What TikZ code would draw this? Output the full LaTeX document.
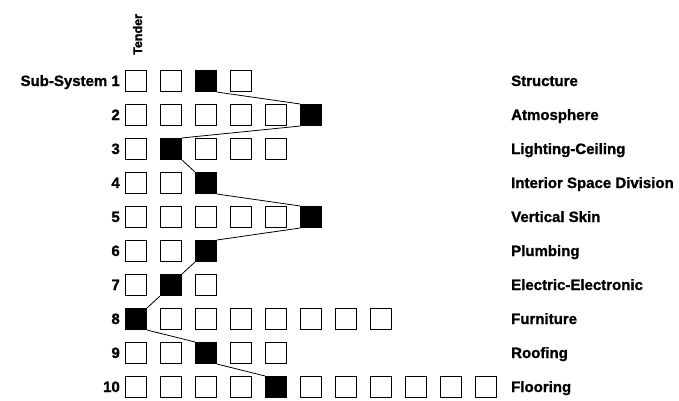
\documentclass[tikz,border=0pt]{standalone}
\usepackage{fontspec}
\setmainfont{Liberation Sans}[BoldFeatures={FakeBold=1.2}]
\usetikzlibrary{positioning}

\begin{document}
\begin{tikzpicture}[
  x=1pt, y=-1pt,
  casilla/.style={rectangle, draw, line width=1.1pt, minimum size=21pt, inner sep=0pt},
  llena/.style={casilla, fill=black},
  rotulo/.style={font=\bfseries\fontsize{15}{18}\selectfont, inner sep=0pt},
  enlace/.style={line width=0.8pt}
]
\useasboundingbox (0,0) rectangle (679,400);
\foreach \r/\n/\izq/\der in {1/4/Sub-System 1/Structure, 2/6/2/Atmosphere, 3/5/3/Lighting-Ceiling,
    4/3/4/Interior Space Division, 5/6/5/Vertical Skin, 6/3/6/Plumbing, 7/3/7/Electric-Electronic,
    8/8/8/Furniture, 9/5/9/Roofing, 10/11/10/Flooring} {
  \foreach \c in {1,...,\n}
    \node[casilla] (b\r-\c) at ({136+35*(\c-1)}, {81+34*(\r-1)}) {};
  \node[rotulo, anchor=base east] (n\r) at (120, {86+34*(\r-1)}) {\izq};
  \node[rotulo, anchor=base west] (t\r) at (511, {86+34*(\r-1)}) {\der};
}
\node[rotulo, font=\bfseries\fontsize{12.5}{15}\selectfont, rotate=90, anchor=base west] (tender) at (142,55) {Tender};
% casillas elegidas
\node[llena] (s1) at (b1-3) {};
\node[llena] (s2) at (b2-6) {};
\node[llena] (s3) at (b3-2) {};
\node[llena] (s4) at (b4-3) {};
\node[llena] (s5) at (b5-6) {};
\node[llena] (s6) at (b6-3) {};
\node[llena] (s7) at (b7-2) {};
\node[llena] (s8) at (b8-1) {};
\node[llena] (s9) at (b9-3) {};
\node[llena] (s10) at (b10-5) {};
\draw[enlace] (s1.south east) -- (s2.north west);
\draw[enlace] (s2.south west) -- (s3.north east);
\draw[enlace] (s3.south east) -- (s4.north west);
\draw[enlace] (s4.south east) -- (s5.north west);
\draw[enlace] (s5.south west) -- (s6.north east);
\draw[enlace] (s6.south west) -- (s7.north east);
\draw[enlace] (s7.south west) -- (s8.north east);
\draw[enlace] (s8.south east) -- (s9.north west);
\draw[enlace] (s9.south east) -- (s10.north west);
\end{tikzpicture}
\end{document}
